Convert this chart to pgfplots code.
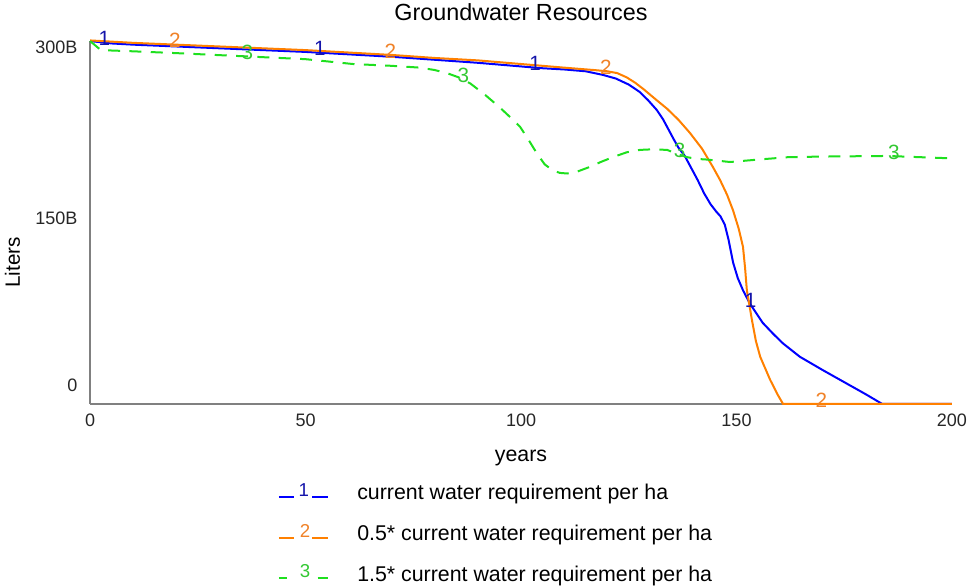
\documentclass[border=0pt]{standalone}
\usepackage{fontspec}
\setmainfont{Liberation Sans}
\usepackage{pgfplots}
\pgfplotsset{compat=1.18}

\definecolor{vblue}{RGB}{0,0,255}
\definecolor{vorange}{RGB}{255,128,0}
\definecolor{vgreen}{RGB}{30,224,30}
\definecolor{nblue}{RGB}{20,20,170}
\definecolor{norange}{RGB}{240,130,40}
\definecolor{ngreen}{RGB}{50,200,50}
\definecolor{axgray}{RGB}{128,128,128}

\begin{document}
\begin{tikzpicture}
\begin{axis}[
  name=ax,
  scale only axis,
  width=646pt, height=272pt,
  xmin=0, xmax=200, ymin=0, ymax=300,
  axis x line*=bottom, axis y line*=left,
  axis line style={axgray, line width=1.7pt, -},
  major tick length=0pt,
  xtick={0,50,100,150,200},
  ytick={0,150,300},
  yticklabels={\smash{\raisebox{9.2pt}{0}}, \smash{\raisebox{-1.4pt}{150B}}, \smash{\raisebox{-9.3pt}{300B}}},
  /pgf/number format/assume math mode=true,
  tick label style={font=\fontsize{13.5}{16}\selectfont, text=black!85},
  xticklabel style={yshift=-4pt},
  yticklabel style={xshift=-6pt},
  title={Groundwater Resources},
  title style={at={(0.5,1.034)}, anchor=base, font=\fontsize{17.5}{20}\selectfont},
  xlabel={years},
  xlabel style={at={(0.5,-0.158)}, anchor=base, font=\fontsize{16}{18}\selectfont},
  ylabel={Liters},
  ylabel style={at={(-0.09,0.39)}, anchor=center, font=\fontsize{15.5}{18}\selectfont},
  clip=false,
  legend style={at={(0.213,-0.205)}, anchor=north west, draw=none, fill=none,
    font=\fontsize{16}{19}\selectfont, row sep=13.5pt},
  legend cell align=left,
]

% series 1: current water requirement
\addplot[vblue, line width=1.5pt,
  legend image code/.code={
    \draw[vblue, line width=1.5pt] (0pt,-3pt) -- (11pt,-3pt);
    \node[text=nblue, font=\fontsize{14}{16}\selectfont, inner sep=0pt] at (14pt,1.5pt) {1};
    \draw[vblue, line width=1.5pt] (25pt,-3pt) -- (37pt,-3pt);
    \path (56pt,0pt);}]
coordinates {
  (0,300) (5,298) (10,297) (20,295.5) (30,294) (40,292.5) (50,291)
  (60,289) (70,287) (80,284.5) (90,282) (100,279) (105,277.5) (110,276.5)
  (115,275) (119,272) (122,269) (125,264) (127.5,258) (129.5,251)
  (131.5,243) (133,235) (135.4,219) (136.5,212) (138,205) (139.5,195)
  (141,185) (142.5,174) (144,165) (145.3,159) (146.3,155) (147.3,148)
  (148.2,135) (149.2,117) (150.3,104) (151.5,94) (153.1,83) (156.1,67)
  (158.5,58) (160.8,50) (164.7,39) (170,28) (175,18) (180,8) (183.8,0) (200,0)
};
\addlegendentry{current water requirement per ha}

% series 2: 0.5* current water requirement
\addplot[vorange, line width=1.5pt,
  legend image code/.code={
    \draw[vorange, line width=1.5pt] (0pt,-3pt) -- (11pt,-3pt);
    \node[text=norange, font=\fontsize{14}{16}\selectfont, inner sep=0pt] at (15pt,1.5pt) {2};
    \draw[vorange, line width=1.5pt] (25pt,-3pt) -- (37pt,-3pt);
    \path (56pt,0pt);}]
coordinates {
  (0,300.5) (10,298.5) (20,297) (30,295.5) (40,294) (50,292.5) (60,290.5)
  (70,288.5) (80,286) (90,284) (100,281) (110,278) (117,276) (120,275)
  (122.3,273.5) (124.5,270) (126.5,265.5) (128.5,260) (131,252.5)
  (133.9,244) (136.5,235) (139.2,224) (142,211) (144.5,196) (146.2,185)
  (147.8,173) (149.2,160) (150.5,145) (151.5,130) (152,112) (152.4,94)
  (153.6,69) (154.5,52) (155.5,39) (157.8,20) (159.5,8) (160.8,0) (200,0)
};
\addlegendentry{0.5* current water requirement per ha}

% series 3: 1.5* current water requirement
\addplot[vgreen, line width=1.5pt, dash pattern=on 9pt off 7pt,
  legend image code/.code={
    \draw[vgreen, line width=1.5pt] (0pt,-3pt) -- (6pt,-3pt);
    \node[text=ngreen, font=\fontsize{14}{16}\selectfont, inner sep=0pt] at (15pt,1.5pt) {3};
    \draw[vgreen, line width=1.5pt] (29pt,-3pt) -- (37pt,-3pt);
    \path (56pt,0pt);}]
coordinates {
  (0,300) (2.5,292.5) (10,291.5) (20,290) (38,287) (50,285) (61,281)
  (70,279.5) (76.6,278) (80,276) (82.8,273.5) (85.5,270) (88.2,265)
  (91.5,256) (95.1,245) (97.5,237) (99.8,229) (101.8,218) (103.7,207)
  (105.5,198) (107.4,193) (109,191) (110.7,190.5) (113,192) (116,196)
  (118.5,200) (121.3,204) (124.5,208) (127.6,210) (130.5,210.5)
  (133.9,210) (136,207) (138.5,204) (141,202.5) (143.2,202) (148.5,200)
  (155,202) (162,204) (170,204.5) (185,205) (200,203)
};
\addlegendentry{1.5* current water requirement per ha}

% line numbers
\addplot[forget plot, draw=none, mark=none, nodes near coords={1},
  every node near coord/.append style={anchor=center, yshift=3pt, text=nblue,
    font=\fontsize{15.5}{17}\selectfont, inner sep=0pt}]
coordinates {(3.3,298.7) (53.3,290.3) (103.3,278) (153.3,82)};
\addplot[forget plot, draw=none, mark=none, nodes near coords={2},
  every node near coord/.append style={anchor=center, yshift=3pt, text=norange,
    font=\fontsize{15.5}{17}\selectfont, inner sep=0pt}]
coordinates {(19.7,297) (69.7,288.5) (119.7,275.2) (169.7,0)};
\addplot[forget plot, draw=none, mark=none, nodes near coords={3},
  every node near coord/.append style={anchor=center, yshift=3pt, text=ngreen,
    font=\fontsize{15.5}{17}\selectfont, inner sep=0pt}]
coordinates {(36.5,287.3) (86.6,268) (136.8,206) (186.5,205)};

\end{axis}
\pgfresetboundingbox
\path ([xshift=-67.5pt, yshift=-136.5pt]ax.south west) rectangle ([xshift=12.75pt, yshift=30.75pt]ax.north east);
\end{tikzpicture}
\end{document}
